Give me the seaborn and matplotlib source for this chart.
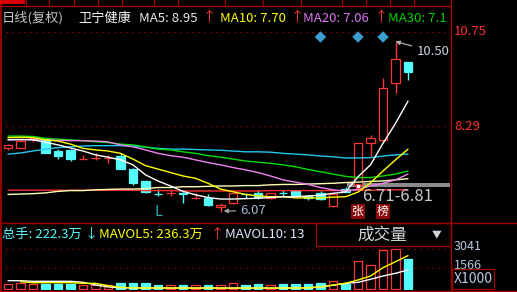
import numpy as np
import matplotlib
matplotlib.use("Agg")
import matplotlib.pyplot as plt
import seaborn as sns
from matplotlib.patches import Rectangle
from matplotlib.lines import Line2D
from matplotlib.transforms import blended_transform_factory

sns.set_style("dark")
plt.rcParams["font.family"] = ["Noto Sans CJK SC", "DejaVu Sans"]
plt.rcParams["axes.unicode_minus"] = False

# ---------------- data ----------------
opens  = [7.72, 7.74, 7.98, 7.96, 7.66, 7.68, 7.43, 7.47, 7.46, 7.52, 7.18, 6.87, 6.53, 6.55, 6.56, 6.42, 6.44,
          6.18, 6.29, 6.54, 6.55, 6.44, 6.56, 6.60, 6.49, 6.55, 6.22, 6.66, 6.77, 7.86, 7.94, 9.41, 9.97]
highs  = [7.84, 7.96, 8.02, 7.97, 7.70, 7.70, 7.54, 7.59, 7.55, 7.59, 7.21, 6.90, 6.67, 6.65, 6.58, 6.55, 6.52,
          6.30, 6.57, 6.57, 6.64, 6.57, 6.64, 6.64, 6.50, 6.62, 6.54, 6.72, 7.85, 8.07, 9.54, 10.50, 9.98]
lows   = [7.69, 7.73, 7.89, 7.59, 7.43, 7.39, 7.43, 7.41, 7.35, 7.17, 6.77, 6.55, 6.49, 6.49, 6.30, 6.40, 6.23,
          6.07, 6.27, 6.42, 6.41, 6.40, 6.49, 6.50, 6.38, 6.38, 6.18, 6.58, 6.72, 7.52, 7.89, 9.15, 9.50]
closes = [7.81, 7.92, 7.99, 7.61, 7.52, 7.43, 7.44, 7.48, 7.47, 7.18, 6.83, 6.59, 6.52, 6.56, 6.54, 6.43, 6.24,
          6.25, 6.55, 6.53, 6.46, 6.55, 6.55, 6.51, 6.42, 6.39, 6.52, 6.59, 7.85, 7.98, 9.28, 10.04, 9.70]

ma5   = [7.94, 7.95, 7.94, 7.88, 7.81, 7.73, 7.65, 7.55, 7.49, 7.42, 7.29, 7.03, 6.87, 6.74, 6.60, 6.51, 6.44,
         6.40, 6.40, 6.41, 6.42, 6.44, 6.46, 6.46, 6.48, 6.50, 6.55, 6.58, 6.98, 7.29, 7.85, 8.37, 8.95]
ma10  = [8.00, 8.01, 8.00, 7.94, 7.91, 7.83, 7.72, 7.68, 7.65, 7.59, 7.44, 7.27, 7.18, 7.09, 7.00, 6.94, 6.81,
         6.66, 6.59, 6.52, 6.48, 6.46, 6.46, 6.43, 6.43, 6.43, 6.45, 6.46, 6.58, 6.82, 7.13, 7.42, 7.70]
ma20  = [7.95, 7.95, 7.95, 7.94, 7.93, 7.92, 7.92, 7.91, 7.89, 7.81, 7.76, 7.68, 7.59, 7.53, 7.49, 7.42, 7.35,
         7.29, 7.22, 7.16, 7.09, 7.00, 6.90, 6.84, 6.78, 6.70, 6.64, 6.61, 6.65, 6.74, 6.81, 6.90, 7.05]
ma30  = [8.04, 8.04, 8.03, 7.98, 7.96, 7.94, 7.92, 7.89, 7.87, 7.83, 7.81, 7.76, 7.70, 7.68, 7.63, 7.59, 7.53,
         7.49, 7.44, 7.39, 7.36, 7.33, 7.29, 7.24, 7.17, 7.11, 7.05, 6.99, 6.96, 6.96, 7.00, 7.05, 7.13]
ma60  = [7.57, 7.60, 7.65, 7.70, 7.74, 7.76, 7.78, 7.79, 7.79, 7.79, 7.78, 7.75, 7.72, 7.70, 7.70, 7.69, 7.68,
         7.67, 7.65, 7.63, 7.63, 7.62, 7.59, 7.57, 7.55, 7.52, 7.50, 7.47, 7.47, 7.48, 7.52, 7.55, 7.57]
ma120 = [6.52, 6.53, 6.54, 6.56, 6.60, 6.62, 6.62, 6.64, 6.65, 6.66, 6.66, 6.67, 6.70, 6.70, 6.72, 6.72, 6.73,
         6.74, 6.74, 6.75, 6.75, 6.77, 6.78, 6.78, 6.79, 6.80, 6.81, 6.83, 6.84, 6.86, 6.87, 6.90, 6.93]
ma250 = [6.63, 6.63, 6.63, 6.63, 6.63, 6.63, 6.63, 6.63, 6.63, 6.63, 6.63, 6.62, 6.62, 6.62, 6.61, 6.61, 6.61,
         6.61, 6.61, 6.61, 6.61, 6.62, 6.62, 6.62, 6.62, 6.62, 6.62, 6.62, 6.63, 6.63, 6.64, 6.64, 6.64]

volumes = [349, 450, 349, 349, 326, 349, 272, 272, 248, 450, 450, 450, 272, 248, 272, 248, 272,
           248, 403, 272, 349, 272, 349, 326, 349, 450, 582, 349, 2100, 1850, 2960, 3041, 2300]
mavol5  = [np.nan, 527, 450, 450, 450, 450, 403, 403, 220, 90, 50, 40, 40, 40, 35, 35, 35,
           35, 35, 35, 35, 35, 35, 40, 50, 120, 260, 403, 660, 970, 1614, 2080, 2550]
mavol10 = [605, 605, 559, 559, 559, 559, 481, 280, 120, 60, 45, 40, 40, 35, 35, 35, 35,
           35, 35, 35, 35, 35, 35, 40, 50, 120, 260, 403, 481, 714, 970, 1179, 1435]

price_levels = [10.75, 8.29]
price_labels = ["10.75", "8.29"]
vol_levels = [3041, 1566]
vol_labels = ["3041", "1566"]
signal_idx = [25, 28, 30]
signal_price = 10.62
lhb_idx = [28, 30]
lhb_text = ["张", "榜"]
chip_range = (6.71, 6.81)
high_idx, high_val = 31, 10.50
low_idx, low_val = 17, 6.07
l_idx = 12

# ---------------- style ----------------
RED = "#ff3636"
CYAN = "#54fcfc"
DRED = "#a00000"
W, H = 517, 292

fig = plt.figure(figsize=(W / 100, H / 100), dpi=100, facecolor="black")


def fr(x0, y0, x1, y1):
    return [x0 / W, 1 - y1 / H, (x1 - x0) / W, (y1 - y0) / H]


ax = fig.add_axes(fr(0, 5, 450, 222))
axv = fig.add_axes(fr(0, 222, 450, 290))
for a in (ax, axv):
    a.set_facecolor("black")
    a.set_axis_off()

n = len(closes)
idx = np.arange(n)
o = np.array(opens); c = np.array(closes); hi = np.array(highs); lo = np.array(lows)
up = c >= o
body_lo = np.minimum(o, c)
body_h = np.maximum(np.abs(c - o), 0.006)
cols = [RED if u else CYAN for u in up]

# candles
ax.vlines(idx, lo, hi, colors=cols, lw=1.0, zorder=2)
ax.bar(idx[up], body_h[up], bottom=body_lo[up], width=0.68, facecolor="black", edgecolor=RED, lw=0.9, zorder=3)
ax.bar(idx[~up], body_h[~up], bottom=body_lo[~up], width=0.68, facecolor=CYAN, edgecolor=CYAN, lw=0.9, zorder=3)

# moving averages
for ma, col in [(ma250, "#ff3030"), (ma120, "#ffffb4"), (ma60, "#1ec8f0"), (ma30, "#00dd00"),
                (ma20, "#f080f0"), (ma10, "#ffff00"), (ma5, "#ffffff")]:
    sns.lineplot(x=idx, y=ma, ax=ax, color=col, lw=1.0, zorder=4)

# reference dotted lines
for lv in price_levels:
    ax.axhline(lv, color=DRED, lw=0.8, ls=(0, (1.2, 4.2)), zorder=1)

# chip range bar
ax.axhspan(chip_range[0], chip_range[1], xmin=347 / 450, xmax=1, color="#8c8c8c", lw=0, zorder=1)
ax.text(362 / 450, (222 - 196.5) / 217, f"{chip_range[0]:.2f}-{chip_range[1]:.2f}", transform=ax.transAxes,
        color="#c8c8c8", fontsize=12, ha="left", va="center", zorder=6)

# signal diamonds
sns.scatterplot(x=signal_idx, y=[signal_price] * len(signal_idx), ax=ax, marker="D", s=34,
                color="#3a9fd0", edgecolor="none", zorder=5)
# small white marker at breakout candle
ax.scatter([28], [6.74], marker="s", s=9, facecolor="white", edgecolor=RED, lw=0.6, zorder=6)

# high / low annotations
ax.annotate(f"{high_val:.2f}", xy=(high_idx, high_val), xytext=(15, -7), textcoords="offset points",
            color="#c8d0e0", fontsize=9.5, ha="left", va="center",
            arrowprops=dict(arrowstyle="-|>", color="#b0b0b0", lw=0.9, shrinkA=1, shrinkB=0, mutation_scale=6),
            zorder=6)
ax.annotate(f"{low_val:.2f}", xy=(low_idx + 0.25, low_val + 0.02), xytext=(12, 0), textcoords="offset points",
            color="#a8b8d0", fontsize=9.5, ha="left", va="center",
            arrowprops=dict(arrowstyle="-|>", color="#a0a0a0", lw=0.9, shrinkA=1, shrinkB=0, mutation_scale=6),
            zorder=6)
ax.text(l_idx, 6.05, "L", color="#20b0b0", fontsize=10.5, ha="center", va="center", zorder=6)

# dragon-tiger list tags
for i, s in zip(lhb_idx, lhb_text):
    ax.text(i, 6.07, s, color="white", fontsize=8.5, ha="center", va="center", zorder=6,
            bbox=dict(boxstyle="square,pad=0.1", fc="#8a0a0a", ec="none"))

ax.set_xlim(-0.64, 35.36)
ax.set_ylim(5.802, 11.453)

# volume panel
vol = np.array(volumes, dtype=float)
axv.bar(idx[up], vol[up], width=0.68, facecolor="black", edgecolor=RED, lw=0.9, zorder=3)
axv.bar(idx[~up], vol[~up], width=0.68, facecolor=CYAN, edgecolor=CYAN, lw=0.9, zorder=3)
sns.lineplot(x=idx, y=mavol10, ax=axv, color="white", lw=1.0, zorder=4)
sns.lineplot(x=idx, y=mavol5, ax=axv, color="#ffff00", lw=1.0, zorder=4)
for lv in vol_levels:
    axv.axhline(lv, color=DRED, lw=0.8, ls=(0, (1.2, 4.2)), zorder=1)
axv.set_xlim(-0.64, 35.36)
axv.set_ylim(-116, 5159)


# ---------------- header texts ----------------
def htext(a, top, bottom, px, py, s, color, size=9.5):
    t = a.text(px / 450, (bottom - py) / (bottom - top), s, transform=a.transAxes, color=color,
               fontsize=size, ha="left", va="center", clip_on=True, zorder=7)
    t.set_clip_box(a.bbox)
    return t


htext(ax, 5, 222, 2, 18, "日线(复权)", "#c4c4c4")
htext(ax, 5, 222, 78, 18, "卫宁健康", "#f4f4f4")
htext(ax, 5, 222, 139, 18, "MA5: 8.95", "#e8e8e8")
htext(ax, 5, 222, 203, 18, "↑", RED)
htext(ax, 5, 222, 220, 18, "MA10: 7.70", "#ffff00")
htext(ax, 5, 222, 290, 18, "↑", RED)
htext(ax, 5, 222, 303, 18, "MA20: 7.06", "#d878f0")
htext(ax, 5, 222, 375, 18, "↑", RED)
htext(ax, 5, 222, 388, 18, "MA30: 7.1", "#00d000")

htext(axv, 222, 290, 2, 234.5, "总手: 222.3万", CYAN)
htext(axv, 222, 290, 85, 234.5, "↓", CYAN)
htext(axv, 222, 290, 99, 234.5, "MAVOL5: 236.3万", "#ffff00")
htext(axv, 222, 290, 211, 234.5, "↑", RED)
htext(axv, 222, 290, 225, 234.5, "MAVOL10: 13", "#dde6ff")


# ---------------- frame / decorations ----------------
def fline(x0, y0, x1, y1, color=DRED, lw=1.0, z=8):
    fig.add_artist(Line2D([x0 / W, x1 / W], [1 - y0 / H, 1 - y1 / H], transform=fig.transFigure,
                          color=color, lw=lw, zorder=z))


def frect(x0, y0, x1, y1, fc="black", ec=DRED, lw=1.0, z=8):
    fig.add_artist(Rectangle((x0 / W, 1 - y1 / H), (x1 - x0) / W, (y1 - y0) / H, transform=fig.transFigure,
                             facecolor=fc, edgecolor=ec, lw=lw, zorder=z))


# right panel mask
frect(450.5, 0, 517, 292, fc="black", ec="none", z=7.5)
# volume-type box
frect(315.5, 222.5, 450.5, 246, fc="black", ec=DRED, lw=0.9, z=7.6)
fig.text(357 / W, 1 - 235 / H, "成交量", color="#d4d4d4", fontsize=12, ha="left", va="center", zorder=9)
fig.text(437 / W, 1 - 234 / H, "▼", color="#d4d4d4", fontsize=7, ha="center", va="center", zorder=9)

fline(0.5, 0, 0.5, 292, color="#b00000", lw=1.2)
fline(450.5, 0, 450.5, 292)
fline(0, 222.5, 517, 222.5)
fline(0, 5.5, 450.5, 5.5)
fline(0, 290.5, 517, 290.5)
frect(0, 0, 25, 4, fc="#d80000", ec="none", z=8)
for xd in [25, 48, 73, 97, 121, 153, 177, 224, 262, 300, 341, 365, 389, 413]:
    fline(xd + 0.5, 0, xd + 0.5, 5, lw=0.9)

# right axis labels
trp = blended_transform_factory(fig.transFigure, ax.transData)
for lv, lab in zip(price_levels, price_labels):
    t = fig.text(454 / W, 0, lab, transform=trp, color="#ff3030", fontsize=9.5, ha="left", va="center", zorder=9)
    t.set_position((454 / W, lv))
trv = blended_transform_factory(fig.transFigure, axv.transData)
for lv, lab in zip(vol_levels, vol_labels):
    t = fig.text(454 / W, 0, lab, transform=trv, color="#b8c8e0", fontsize=9, ha="left", va="center", zorder=9)
    t.set_position((454 / W, lv + 200))
frect(451.5, 269, 494, 289, fc="black", ec=DRED, lw=0.9, z=9.5)
fig.text(454 / W, 1 - 279 / H, "X1000", color="#b8c8e0", fontsize=10, ha="left", va="center", zorder=10)

fig.savefig("out.png", dpi=100, facecolor="black")
